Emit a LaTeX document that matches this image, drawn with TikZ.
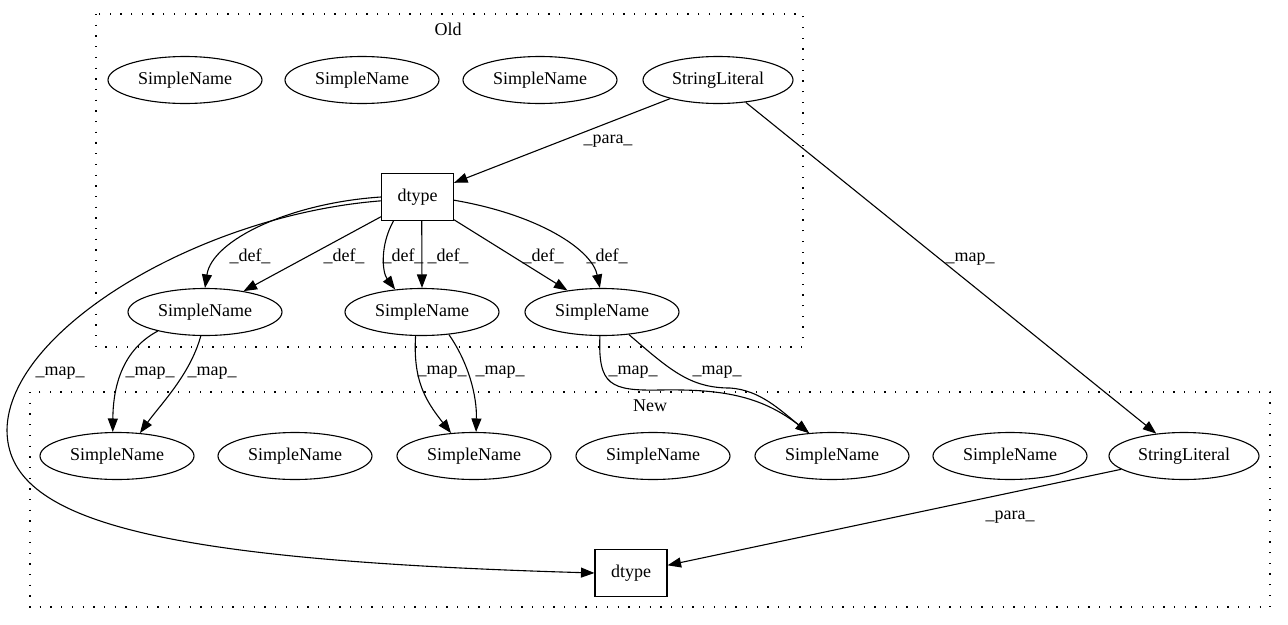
\documentclass[tikz,border=0pt]{standalone}
\usepackage{fontspec}
\setmainfont{Liberation Serif}
\usetikzlibrary{arrows.meta,shapes.geometric}
\begin{document}
\begin{tikzpicture}[x=1pt,y=-1pt,
  every node/.style={font=\fontsize{18}{21}\selectfont},
  ell/.style={draw,ellipse,line width=1.1pt,minimum width=154pt,minimum height=47pt,inner sep=0pt},
  sll/.style={draw,ellipse,line width=1.1pt,minimum width=150pt,minimum height=47pt,inner sep=0pt},
  boxn/.style={draw,rectangle,line width=1.1pt,minimum width=72pt,minimum height=47pt,inner sep=0pt},
  clus/.style={line width=1.2pt,dash pattern=on 1.3pt off 9.4pt},
  edge/.style={line width=1.1pt,-{Triangle[length=13.5pt,width=10pt]}},
  lbl/.style={inner sep=0pt}]
\useasboundingbox (0,0) rectangle (1288,624);
% clusters
\draw[clus] (96,14) rectangle (803,347);
\node (oldlbl) at (448,29) {Old};
\draw[clus] (30,392) rectangle (1270,607);
\node (newlbl) at (650,406) {New};
% old nodes
\node[ell] (o1) at (185,80) {SimpleName};
\node[ell] (o2) at (362,80) {SimpleName};
\node[ell] (o3) at (540,80) {SimpleName};
\node[sll] (osl) at (718,80) {StringLiteral};
\node[boxn] (odt) at (417.5,197) {dtype};
\node[ell] (oa) at (205,312) {SimpleName};
\node[ell] (ob) at (422,312) {SimpleName};
\node[ell] (oc) at (602,312) {SimpleName};
% new nodes
\node[ell] (n1) at (117,456) {SimpleName};
\node[ell] (n2) at (295,456) {SimpleName};
\node[ell] (n3) at (474,456) {SimpleName};
\node[ell] (n4) at (653,456) {SimpleName};
\node[ell] (n5) at (832,456) {SimpleName};
\node[ell] (n6) at (1010,456) {SimpleName};
\node[sll] (nsl) at (1184,456) {StringLiteral};
\node[boxn] (ndt) at (631,573) {dtype};
% edges
\draw[edge] (osl) -- (odt);
\node[lbl] (l1) at (608,141) {\_para\_};
\draw[edge] (osl) -- (nsl);
\node[lbl] (l2) at (970,259) {\_map\_};
\draw[edge] (odt.west) .. controls (290,203) and (212,240) .. (oa.north);
\node[lbl] (l3) at (250,256) {\_def\_};
\draw[edge] (odt) -- (oa);
\node[lbl] (l4) at (344,256) {\_def\_};
\draw[edge] (odt.225) .. controls (380,245) and (382,272) .. (ob.140);
\node[lbl] (l5) at (403,256) {\_def\_};
\draw[edge] (odt.-80) -- (ob.north);
\node[lbl] (l6) at (448,256) {\_def\_};
\draw[edge] (odt) -- (oc);
\node[lbl] (l7) at (543,256) {\_def\_};
\draw[edge] (odt.-5) .. controls (540,215) and (592,250) .. (oc.95);
\node[lbl] (l8) at (607,256) {\_def\_};
\draw[edge] (odt.186) .. controls (200,215) and (8,330) .. (7,430)
  .. controls (7,520) and (150,560) .. (ndt.west);
\node[lbl] (l9) at (60,373) {\_map\_};
\draw[edge] (oa.-158) .. controls (118,352) and (113,395) .. (n1.100);
\node[lbl] (l10) at (150,373) {\_map\_};
\draw[edge] (oa.-100) .. controls (190,375) and (160,405) .. (n1.45);
\node[lbl] (l11) at (212,373) {\_map\_};
\draw[edge] (ob.-105) .. controls (413,380) and (425,400) .. (n3.135);
\node[lbl] (l12) at (442,372) {\_map\_};
\draw[edge] (ob.-40) .. controls (468,362) and (477,395) .. (n3.85);
\node[lbl] (l13) at (500,372) {\_map\_};
\draw[edge] (oc.265) .. controls (598,385) and (610,391) .. (660,390)
  .. controls (720,389) and (760,395) .. (n5.135);
\node[lbl] (l14) at (633,372) {\_map\_};
\draw[edge] (oc.-40) .. controls (670,370) and (690,388) .. (730,388)
  .. controls (760,390) and (780,410) .. (n5.135);
\node[lbl] (l15) at (717,372) {\_map\_};
\draw[edge] (nsl) -- (ndt);
\node[lbl] (l16) at (1010,517) {\_para\_};
\end{tikzpicture}
\end{document}
